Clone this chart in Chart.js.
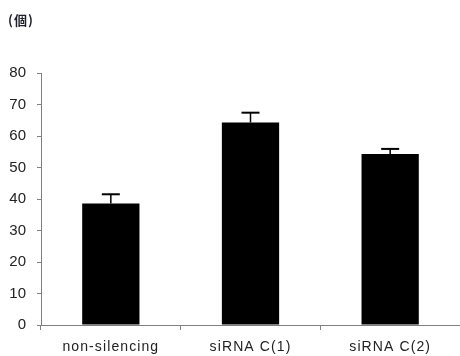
<!DOCTYPE html>
<html>
<head>
<meta charset="utf-8">
<script src="https://cdn.jsdelivr.net/npm/chart.js@4"></script>
<style>
    html, body { margin: 0; padding: 0; background: #fff; }
    #wrap { position: relative; width: 460px; height: 356px; }
</style>
</head>
<body>
<div id="wrap"><canvas id="chart" width="460" height="356"></canvas></div>
<script>
// chart data
const categories = ['non-silencing', 'siRNA C(1)', 'siRNA C(2)'];
const counts = [38.6, 64.3, 54.3];
const errors = [2.9, 3.1, 1.6];
const yTicks = [0, 10, 20, 30, 40, 50, 60, 70, 80];
const unitLabel = '(個)';

const axisColor = '#808080';

// Draw upper error bars and unit label, then widen the category labels
const errorBarPlugin = {
    id: 'errorBars',
    afterDatasetsDraw(chart) {
        const ctx = chart.ctx;
        const yScale = chart.scales.y;
        const meta = chart.getDatasetMeta(0);
        ctx.save();
        ctx.strokeStyle = '#000';
        meta.data.forEach((bar, i) => {
            const top = yScale.getPixelForValue(counts[i] + errors[i]);
            ctx.lineWidth = 1.5;
            ctx.beginPath();
            ctx.moveTo(bar.x, bar.y);
            ctx.lineTo(bar.x, top);
            ctx.stroke();
            ctx.lineWidth = 2;
            ctx.beginPath();
            ctx.moveTo(bar.x - 9, top);
            ctx.lineTo(bar.x + 9, top);
            ctx.stroke();
        });
        ctx.fillStyle = '#1e1e2a';
        ctx.font = 'bold 13px "Noto Sans CJK JP"';
        ctx.letterSpacing = '1px';
        ctx.textBaseline = 'middle';
        ctx.fillText(unitLabel, 8, 20);
        ctx.restore();
        // x tick labels are on a higher layer and are drawn after this hook
        ctx.letterSpacing = '1.1px';
    },
    afterDraw(chart) {
        chart.ctx.letterSpacing = '0px';
    }
};

new Chart(document.getElementById('chart'), {
    type: 'bar',
    data: {
        labels: categories,
        datasets: [{
            data: counts,
            backgroundColor: '#000',
            borderWidth: 0,
            barPercentage: 0.41,
            categoryPercentage: 1
        }]
    },
    options: {
        responsive: false,
        animation: false,
        layout: { padding: { top: 73, left: 0, right: 0, bottom: 0 } },
        plugins: {
            legend: { display: false },
            tooltip: { enabled: false }
        },
        scales: {
            x: {
                offset: true,
                grid: {
                    display: true,
                    offset: true,
                    drawOnChartArea: false,
                    tickLength: 5,
                    color: axisColor
                },
                border: { color: axisColor, width: 1 },
                ticks: {
                    z: 1,
                    color: '#222',
                    padding: 9,
                    font: { family: '"Liberation Sans", Arial', size: 14 }
                },
                afterFit(scale) { scale.height = 31; }
            },
            y: {
                min: 0,
                max: 80,
                afterBuildTicks(scale) {
                    scale.ticks = yTicks.map(v => ({ value: v }));
                },
                grid: {
                    display: true,
                    drawOnChartArea: false,
                    tickLength: 4,
                    color: axisColor
                },
                border: { color: axisColor, width: 1 },
                ticks: {
                    color: '#222',
                    padding: 11,
                    font: { family: '"Liberation Sans", Arial', size: 15 }
                },
                afterFit(scale) { scale.width = 41; }
            }
        }
    },
    plugins: [errorBarPlugin]
});
</script>
</body>
</html>
